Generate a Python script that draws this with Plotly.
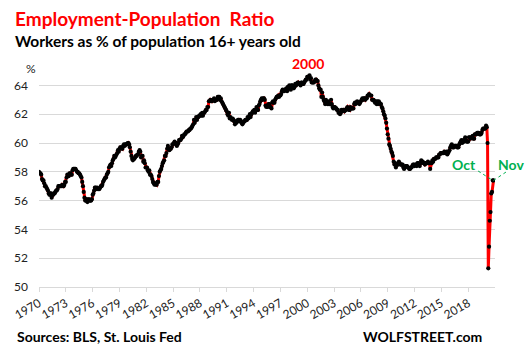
import plotly.graph_objects as go

# Monthly employment-population ratio (%), Jan 1970 .. Nov 2020
start_year = 1970
emp_ratio = [
    58.0, 57.9, 57.9, 57.8, 57.5, 57.4, 57.4, 57.2, 57.0, 57.0, 56.9, 56.8,  # 1970
    56.7, 56.5, 56.4, 56.5, 56.5, 56.2, 56.4, 56.4, 56.5, 56.5, 56.6, 56.7,  # 1971
    56.7, 56.8, 57.0, 57.0, 57.0, 57.0, 57.0, 57.1, 57.0, 57.0, 57.1, 57.3,  # 1972
    57.3, 57.6, 57.8, 57.7, 57.7, 57.9, 57.9, 57.8, 57.8, 58.1, 58.2, 58.2,  # 1973
    58.2, 58.2, 58.1, 58.0, 58.0, 57.9, 57.9, 57.8, 57.7, 57.6, 57.3, 57.0,  # 1974
    56.6, 56.2, 56.0, 56.0, 56.1, 55.9, 56.0, 56.1, 56.0, 56.0, 56.0, 56.1,  # 1975
    56.4, 56.5, 56.7, 56.9, 56.9, 56.8, 56.9, 56.8, 56.8, 56.8, 56.9, 57.0,  # 1976
    57.0, 57.1, 57.3, 57.4, 57.5, 57.6, 57.6, 57.8, 57.9, 58.0, 58.3, 58.4,  # 1977
    58.5, 58.4, 58.6, 58.8, 58.9, 59.1, 59.0, 59.1, 59.2, 59.3, 59.5, 59.4,  # 1978
    59.6, 59.7, 59.7, 59.6, 59.6, 59.8, 59.9, 59.8, 59.9, 59.9, 59.9, 60.0,  # 1979
    60.0, 59.9, 59.7, 59.4, 59.1, 58.9, 58.8, 58.9, 58.9, 59.0, 59.1, 59.1,  # 1980
    59.2, 59.2, 59.4, 59.5, 59.4, 59.0, 59.1, 59.1, 58.7, 58.8, 58.6, 58.3,  # 1981
    58.3, 58.3, 58.1, 58.0, 58.1, 57.8, 57.8, 57.7, 57.5, 57.3, 57.2, 57.1,  # 1982
    57.2, 57.1, 57.1, 57.3, 57.3, 57.7, 58.0, 58.1, 58.2, 58.4, 58.6, 58.7,  # 1983
    58.8, 59.1, 59.1, 59.3, 59.6, 59.8, 59.6, 59.5, 59.6, 59.6, 59.7, 59.9,  # 1984
    59.9, 60.0, 60.1, 60.0, 60.0, 59.8, 59.9, 60.0, 60.2, 60.2, 60.2, 60.3,  # 1985
    60.5, 60.4, 60.5, 60.6, 60.6, 60.7, 60.8, 60.8, 60.8, 60.9, 60.9, 61.0,  # 1986
    61.0, 61.1, 61.2, 61.3, 61.6, 61.4, 61.6, 61.8, 61.6, 61.8, 61.8, 61.9,  # 1987
    61.9, 62.0, 61.9, 62.1, 61.9, 62.1, 62.1, 62.2, 62.3, 62.3, 62.5, 62.5,  # 1988
    62.9, 62.9, 63.0, 62.9, 62.9, 63.0, 63.0, 63.1, 62.9, 63.0, 63.0, 63.0,  # 1989
    63.2, 63.2, 63.2, 63.0, 63.1, 62.9, 62.8, 62.7, 62.6, 62.5, 62.4, 62.3,  # 1990
    62.2, 62.0, 61.9, 62.1, 61.7, 61.8, 61.7, 61.6, 61.7, 61.6, 61.5, 61.3,  # 1991
    61.5, 61.4, 61.5, 61.6, 61.6, 61.5, 61.6, 61.5, 61.4, 61.3, 61.4, 61.5,  # 1992
    61.5, 61.6, 61.6, 61.6, 61.8, 61.7, 61.8, 62.0, 61.8, 62.0, 62.1, 62.2,  # 1993
    62.2, 62.3, 62.1, 62.3, 62.5, 62.3, 62.3, 62.6, 62.7, 62.9, 63.0, 63.1,  # 1994
    63.0, 63.1, 63.1, 63.0, 62.6, 62.5, 62.6, 62.5, 62.7, 62.7, 62.5, 62.5,  # 1995
    62.4, 62.8, 62.9, 62.8, 62.8, 63.0, 63.1, 63.2, 63.2, 63.3, 63.2, 63.3,  # 1996
    63.3, 63.4, 63.6, 63.7, 63.6, 63.6, 63.7, 63.7, 63.8, 63.6, 63.9, 63.8,  # 1997
    64.0, 63.8, 63.7, 64.0, 64.0, 63.9, 63.8, 63.9, 64.1, 64.0, 64.1, 64.2,  # 1998
    64.2, 64.1, 64.1, 64.0, 64.2, 64.2, 64.1, 64.1, 64.2, 64.3, 64.4, 64.4,  # 1999
    64.6, 64.6, 64.6, 64.7, 64.4, 64.5, 64.2, 64.2, 64.2, 64.2, 64.3, 64.4,  # 2000
    64.4, 64.3, 64.3, 64.0, 63.8, 63.7, 63.7, 63.2, 63.5, 63.2, 63.0, 62.9,  # 2001
    62.7, 63.0, 62.8, 62.7, 62.9, 62.7, 62.7, 62.7, 63.0, 62.7, 62.5, 62.4,  # 2002
    62.5, 62.5, 62.4, 62.4, 62.3, 62.3, 62.1, 62.1, 62.0, 62.1, 62.3, 62.2,  # 2003
    62.3, 62.3, 62.2, 62.3, 62.3, 62.4, 62.5, 62.4, 62.3, 62.3, 62.5, 62.4,  # 2004
    62.4, 62.4, 62.4, 62.7, 62.8, 62.7, 62.8, 62.9, 62.8, 62.8, 62.7, 62.8,  # 2005
    62.9, 63.0, 63.1, 63.0, 63.1, 63.1, 63.0, 63.1, 63.1, 63.3, 63.3, 63.4,  # 2006
    63.3, 63.3, 63.3, 63.0, 63.0, 63.0, 62.9, 62.8, 62.9, 62.7, 62.9, 62.7,  # 2007
    62.9, 62.8, 62.7, 62.7, 62.5, 62.4, 62.2, 62.0, 61.9, 61.7, 61.4, 61.0,  # 2008
    60.6, 60.3, 59.9, 59.8, 59.6, 59.4, 59.3, 59.1, 58.7, 58.5, 58.6, 58.3,  # 2009
    58.5, 58.5, 58.5, 58.7, 58.6, 58.5, 58.5, 58.5, 58.5, 58.3, 58.2, 58.3,  # 2010
    58.4, 58.4, 58.4, 58.3, 58.3, 58.2, 58.2, 58.3, 58.3, 58.4, 58.5, 58.5,  # 2011
    58.4, 58.5, 58.5, 58.4, 58.6, 58.6, 58.5, 58.4, 58.6, 58.8, 58.7, 58.7,  # 2012
    58.6, 58.6, 58.5, 58.6, 58.6, 58.6, 58.7, 58.6, 58.6, 58.2, 58.6, 58.6,  # 2013
    58.8, 58.7, 58.9, 58.9, 58.9, 59.0, 59.0, 59.0, 59.0, 59.2, 59.2, 59.3,  # 2014
    59.3, 59.3, 59.3, 59.3, 59.4, 59.3, 59.3, 59.4, 59.2, 59.3, 59.4, 59.5,  # 2015
    59.7, 59.8, 59.9, 59.7, 59.7, 59.7, 59.8, 59.8, 59.8, 59.7, 59.7, 59.7,  # 2016
    59.9, 60.0, 60.1, 60.2, 60.0, 60.1, 60.2, 60.1, 60.4, 60.2, 60.1, 60.1,  # 2017
    60.1, 60.4, 60.4, 60.3, 60.4, 60.4, 60.5, 60.3, 60.3, 60.6, 60.6, 60.6,  # 2018
    60.7, 60.7, 60.7, 60.6, 60.6, 60.6, 60.7, 60.9, 61.0, 61.0, 61.0, 61.0,  # 2019
    61.2, 61.1, 60.0, 51.3, 52.8, 54.6, 55.2, 56.5, 56.6, 57.4, 57.4,        # 2020
]

tick_years = list(range(1970, 2019, 3))
tick_labels = [str(y) for y in tick_years]
y_ticks = [50, 52, 54, 56, 58, 60, 62, 64]

title_text = "Employment-Population  Ratio"
subtitle_text = "Workers as % of population 16+ years old"
source_text = "Sources: BLS, St. Louis Fed"
brand_text = "WOLFSTREET.com"
peak_label = "2000"
oct_label = "Oct"
nov_label = "Nov"

x_vals = [start_year + i / 12 for i in range(len(emp_ratio))]

X0, X1 = 1970, 2021
Y0, Y1 = 50, 65

FONT = "Lato"
GREEN = "#00B050"

fig = go.Figure()
fig.add_trace(go.Scatter(
    x=x_vals, y=emp_ratio, mode="lines+markers",
    line=dict(color="#FF0000", width=3),
    marker=dict(color="#000000", size=4.2),
    hoverinfo="skip", showlegend=False,
))

def px(xv):
    return (xv - X0) / (X1 - X0)

def py(yv):
    return (yv - Y0) / (Y1 - Y0)

oct_x, oct_y = x_vals[-2], emp_ratio[-2]
nov_x, nov_y = x_vals[-1], emp_ratio[-1]

annotations = [
    dict(text=f"<b>{title_text}</b>", xref="paper", yref="paper", x=-0.058, y=1.242,
         xanchor="left", yanchor="middle", showarrow=False,
         font=dict(family=FONT, size=19, color="#FF0000")),
    dict(text=f"<b>{subtitle_text}</b>", xref="paper", yref="paper", x=-0.058, y=1.14,
         xanchor="left", yanchor="middle", showarrow=False,
         font=dict(family=FONT, size=15.5, color="#000000")),
    dict(text="%", xref="paper", yref="paper", x=-0.017, y=1.01,
         xanchor="center", yanchor="middle", showarrow=False,
         font=dict(family=FONT, size=12, color="#222222")),
    dict(text=f"<b>{peak_label}</b>", x=2000.1, y=64.72, xref="x", yref="y",
         xanchor="center", yanchor="bottom", yshift=1, showarrow=False,
         font=dict(family=FONT, size=14, color="#FF0000")),
    dict(text=f"<b>{oct_label}</b>", xref="paper", yref="paper", x=0.963, y=0.565,
         xanchor="right", yanchor="middle", showarrow=False,
         font=dict(family=FONT, size=14, color=GREEN)),
    dict(text=f"<b>{nov_label}</b>", xref="paper", yref="paper", x=1.003, y=0.565,
         xanchor="left", yanchor="middle", showarrow=False,
         font=dict(family=FONT, size=14, color=GREEN)),
    dict(text=f"<b>{source_text}</b>", xref="paper", yref="paper", x=-0.053, y=-0.23,
         xanchor="left", yanchor="middle", showarrow=False,
         font=dict(family=FONT, size=14, color="#000000")),
    dict(text=f"<b>{brand_text}</b>", xref="paper", yref="paper", x=0.706, y=-0.23,
         xanchor="left", yanchor="middle", showarrow=False,
         font=dict(family=FONT, size=14, color="#000000")),
]

shapes = [
    dict(type="line", xref="paper", yref="paper", x0=0.963, y0=0.537,
         x1=px(oct_x), y1=py(oct_y), line=dict(color=GREEN, width=1, dash="dot")),
    dict(type="line", xref="paper", yref="paper", x0=1.024, y0=0.532,
         x1=px(nov_x), y1=py(nov_y), line=dict(color=GREEN, width=1, dash="dot")),
]

fig.update_layout(
    width=529, height=350,
    margin=dict(l=36, r=34, t=71, b=63),
    paper_bgcolor="white", plot_bgcolor="white",
    font=dict(family=FONT, color="#222222"),
    annotations=annotations, shapes=shapes,
    xaxis=dict(
        range=[X0, X1], tickmode="array", tickvals=tick_years, ticktext=tick_labels,
        tickangle=-30, tickfont=dict(family=FONT, size=12, color="#222222"),
        showgrid=False, zeroline=False, showline=True, linecolor="#D9D9D9", linewidth=1,
        ticks="outside", ticklen=4, tickcolor="#D9D9D9",
    ),
    yaxis=dict(
        range=[Y0, Y1], tickmode="array", tickvals=y_ticks,
        tickfont=dict(family=FONT, size=12, color="#222222"),
        showgrid=True, gridcolor="#D9D9D9", gridwidth=1, zeroline=False,
        showline=False, ticks="", ticklabelstandoff=10,
    ),
)

fig.write_html("out.html")
